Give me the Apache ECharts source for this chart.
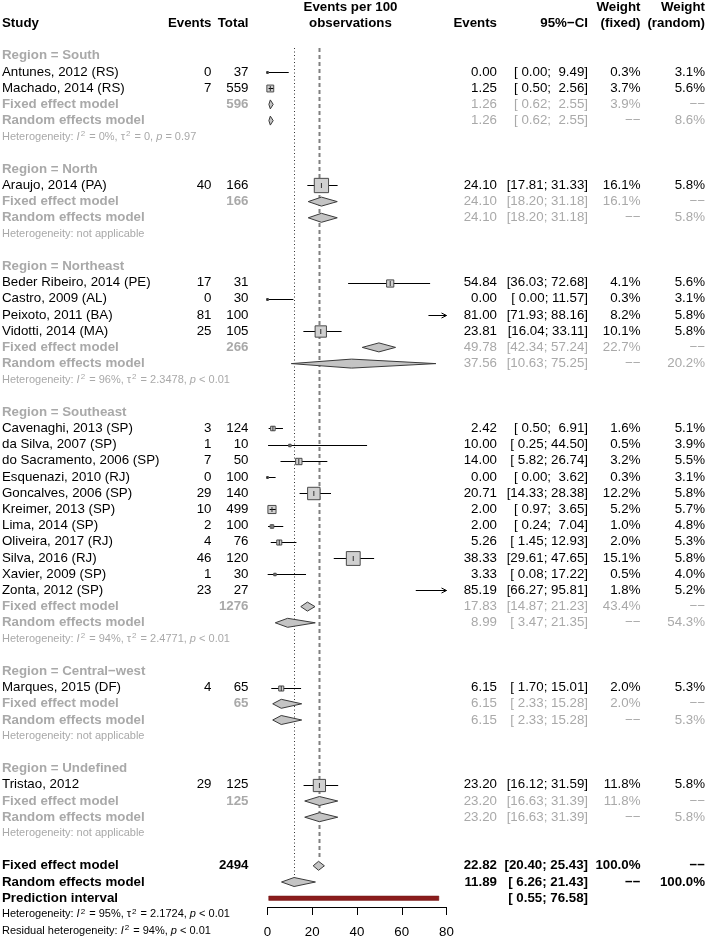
<!DOCTYPE html>
<html>
<head>
<meta charset="utf-8">
<script src="https://cdn.jsdelivr.net/npm/echarts@6/dist/echarts.min.js"></script>
<style>
  html, body { margin: 0; padding: 0; background: #fff; }
  #chart { width: 707px; height: 939px; }
</style>
</head>
<body>
<div id="chart"></div>
<script>
// ---- data ----
const regionNames = ['South', 'North', 'Northeast', 'Southeast', 'Central\u2212west', 'Undefined']

const studyNames = [
  'Antunes, 2012 (RS)', 'Machado, 2014 (RS)',
  'Araujo, 2014 (PA)',
  'Beder Ribeiro, 2014 (PE)', 'Castro, 2009 (AL)', 'Peixoto, 2011 (BA)', 'Vidotti, 2014 (MA)',
  'Cavenaghi, 2013 (SP)', 'da Silva, 2007 (SP)', 'do Sacramento, 2006 (SP)', 'Esquenazi, 2010 (RJ)',
  'Goncalves, 2006 (SP)', 'Kreimer, 2013 (SP)', 'Lima, 2014 (SP)', 'Oliveira, 2017 (RJ)',
  'Silva, 2016 (RJ)', 'Xavier, 2009 (SP)', 'Zonta, 2012 (SP)',
  'Marques, 2015 (DF)',
  'Tristao, 2012'
]
const studyRegion = [0, 0, 1, 2, 2, 2, 2, 3, 3, 3, 3, 3, 3, 3, 3, 3, 3, 3, 4, 5]
const studyEvents = [0, 7, 40, 17, 0, 81, 25, 3, 1, 7, 0, 29, 10, 2, 4, 46, 1, 23, 4, 29]
const studyTotal = [37, 559, 166, 31, 30, 100, 105, 124, 10, 50, 100, 140, 499, 100, 76, 120, 30, 27, 65, 125]
const studyEst = [0.00, 1.25, 24.10, 54.84, 0.00, 81.00, 23.81, 2.42, 10.00, 14.00, 0.00, 20.71, 2.00, 2.00, 5.26, 38.33, 3.33, 85.19, 6.15, 23.20]
const studyLower = [0.00, 0.50, 17.81, 36.03, 0.00, 71.93, 16.04, 0.50, 0.25, 5.82, 0.00, 14.33, 0.97, 0.24, 1.45, 29.61, 0.08, 66.27, 1.70, 16.12]
const studyUpper = [9.49, 2.56, 31.33, 72.68, 11.57, 88.16, 33.11, 6.91, 44.50, 26.74, 3.62, 28.38, 3.65, 7.04, 12.93, 47.65, 17.22, 95.81, 15.01, 31.59]
const studyWFixed = [0.3, 3.7, 16.1, 4.1, 0.3, 8.2, 10.1, 1.6, 0.5, 3.2, 0.3, 12.2, 5.2, 1.0, 2.0, 15.1, 0.5, 1.8, 2.0, 11.8]
const studyWRandom = [3.1, 5.6, 5.8, 5.6, 3.1, 5.8, 5.8, 5.1, 3.9, 5.5, 3.1, 5.8, 5.7, 4.8, 5.3, 5.8, 4.0, 5.2, 5.3, 5.8]

const regionTotal = [596, 166, 266, 1276, 65, 125]
const fixedEst = [1.26, 24.10, 49.78, 17.83, 6.15, 23.20]
const fixedLower = [0.62, 18.20, 42.34, 14.87, 2.33, 16.63]
const fixedUpper = [2.55, 31.18, 57.24, 21.23, 15.28, 31.39]
const fixedWeight = [3.9, 16.1, 22.7, 43.4, 2.0, 11.8]
const randomEst = [1.26, 24.10, 37.56, 8.99, 6.15, 23.20]
const randomLower = [0.62, 18.20, 10.63, 3.47, 2.33, 16.63]
const randomUpper = [2.55, 31.18, 75.25, 21.35, 15.28, 31.39]
const randomWeight = [8.6, 5.8, 20.2, 54.3, 5.3, 5.8]
const hetI2 = [0, null, 96, 94, null, null]
const hetTau2 = ['0', null, '2.3478', '2.4771', null, null]
const hetP = ['= 0.97', null, '< 0.01', '< 0.01', null, null]

const overallTotal = 2494
const overallFixed = [22.82, 20.40, 25.43]
const overallRandom = [11.89, 6.26, 21.43]
const predInterval = [0.55, 76.58]
const overallHet = [95, '2.1724', '< 0.01']
const residualHet = [94, '< 0.01']

const xTicks = [0, 20, 40, 60, 80]

// ---- layout ----
const XMIN = 0, XMAX = 80
const ROW0 = 55.8, ROWH = 16.2
const FONT = '"Liberation Sans", Arial, Helvetica, sans-serif'
const FS = 13.3, FS_SMALL = 11
const BLACK = '#000', GRAY = '#a9a9a9'
const COL = { study: 2, events: 211.5, total: 248.5, plotMid: 350.5, est: 497, ci: 588, wf: 640.5, wr: 705 }

const texts = []
function addText(row, x, align, text, color, bold, size, rich) {
  texts.push({ row, x, align, text, color, bold: !!bold, size: size || FS, rich })
}
const fmt = v => v.toFixed(2)
const pad = v => v.toFixed(2).padStart(5, ' ')
const ci = (l, u) => '[' + pad(l) + '; ' + pad(u) + ']'
const pct = v => v.toFixed(1) + '%'
const DASH = '\u2212\u2212'

// superscript 2 drawn a bit raised and small, like R's plotmath
function richStyles(color) {
  return {
    n: { fontSize: FS_SMALL, fontFamily: FONT, fill: color },
    it: { fontSize: FS_SMALL, fontFamily: FONT, fill: color, fontStyle: 'italic' },
    sup: { fontSize: 8, fontFamily: FONT, fill: color, padding: [0, 1, 6, 1] }
  }
}
function hetRich(prefix, i2, tau2, p) {
  let s = '{n|' + prefix + ': }{it|I}{sup|2}{n| = ' + i2 + '%, '
  if (tau2 !== null) s += '\u03c4}{sup|2}{n| = ' + tau2 + ', '
  return s + '}{it|p}{n| ' + p + '}'
}

// headers
const H1 = -2.98, H2 = -1.98
addText(H1, COL.plotMid, 'center', 'Events per 100', BLACK, true)
addText(H2, COL.plotMid, 'center', 'observations', BLACK, true)
addText(H2, COL.study, 'left', 'Study', BLACK, true)
addText(H2, COL.events, 'right', 'Events', BLACK, true)
addText(H2, COL.total, 'right', 'Total', BLACK, true)
addText(H2, COL.est, 'right', 'Events', BLACK, true)
addText(H2, COL.ci, 'right', '95%\u2212CI', BLACK, true)
addText(H1, COL.wf, 'right', 'Weight', BLACK, true)
addText(H2, COL.wf, 'right', '(fixed)', BLACK, true)
addText(H1, COL.wr, 'right', 'Weight', BLACK, true)
addText(H2, COL.wr, 'right', '(random)', BLACK, true)

const studyMarks = []
const diamonds = []
let r = 0
regionNames.forEach((reg, g) => {
  addText(r, COL.study, 'left', 'Region = ' + reg, GRAY, true)
  r++
  studyNames.forEach((name, i) => {
    if (studyRegion[i] !== g) return
    addText(r, COL.study, 'left', name, BLACK)
    addText(r, COL.events, 'right', String(studyEvents[i]), BLACK)
    addText(r, COL.total, 'right', String(studyTotal[i]), BLACK)
    addText(r, COL.est, 'right', fmt(studyEst[i]), BLACK)
    addText(r, COL.ci, 'right', ci(studyLower[i], studyUpper[i]), BLACK)
    addText(r, COL.wf, 'right', pct(studyWFixed[i]), BLACK)
    addText(r, COL.wr, 'right', pct(studyWRandom[i]), BLACK)
    studyMarks.push([studyEst[i], r, studyLower[i], studyUpper[i], studyWFixed[i]])
    r++
  })
  addText(r, COL.study, 'left', 'Fixed effect model', GRAY, true)
  addText(r, COL.total, 'right', String(regionTotal[g]), GRAY, true)
  addText(r, COL.est, 'right', fmt(fixedEst[g]), GRAY)
  addText(r, COL.ci, 'right', ci(fixedLower[g], fixedUpper[g]), GRAY)
  addText(r, COL.wf, 'right', pct(fixedWeight[g]), GRAY)
  addText(r, COL.wr, 'right', DASH, GRAY)
  diamonds.push([fixedEst[g], r, fixedLower[g], fixedUpper[g]])
  r++
  addText(r, COL.study, 'left', 'Random effects model', GRAY, true)
  addText(r, COL.est, 'right', fmt(randomEst[g]), GRAY)
  addText(r, COL.ci, 'right', ci(randomLower[g], randomUpper[g]), GRAY)
  addText(r, COL.wf, 'right', DASH, GRAY)
  addText(r, COL.wr, 'right', pct(randomWeight[g]), GRAY)
  diamonds.push([randomEst[g], r, randomLower[g], randomUpper[g]])
  r++
  if (hetI2[g] === null) {
    addText(r, COL.study, 'left', 'Heterogeneity: not applicable', GRAY, false, FS_SMALL)
  } else {
    addText(r, COL.study, 'left', hetRich('Heterogeneity', hetI2[g], hetTau2[g], hetP[g]), GRAY, false, FS_SMALL, richStyles(GRAY))
  }
  r += 2
})

// overall
const rowFixed = r, rowRandom = r + 1, rowPred = r + 2
addText(rowFixed, COL.study, 'left', 'Fixed effect model', BLACK, true)
addText(rowFixed, COL.total, 'right', String(overallTotal), BLACK, true)
addText(rowFixed, COL.est, 'right', fmt(overallFixed[0]), BLACK, true)
addText(rowFixed, COL.ci, 'right', ci(overallFixed[1], overallFixed[2]), BLACK, true)
addText(rowFixed, COL.wf, 'right', '100.0%', BLACK, true)
addText(rowFixed, COL.wr, 'right', DASH, BLACK, true)
diamonds.push([overallFixed[0], rowFixed, overallFixed[1], overallFixed[2]])
addText(rowRandom, COL.study, 'left', 'Random effects model', BLACK, true)
addText(rowRandom, COL.est, 'right', fmt(overallRandom[0]), BLACK, true)
addText(rowRandom, COL.ci, 'right', ci(overallRandom[1], overallRandom[2]), BLACK, true)
addText(rowRandom, COL.wf, 'right', DASH, BLACK, true)
addText(rowRandom, COL.wr, 'right', '100.0%', BLACK, true)
diamonds.push([overallRandom[0], rowRandom, overallRandom[1], overallRandom[2]])
addText(rowPred, COL.study, 'left', 'Prediction interval', BLACK, true)
addText(rowPred, COL.ci, 'right', ci(predInterval[0], predInterval[1]), BLACK, true)
addText(r + 3, COL.study, 'left', hetRich('Heterogeneity', overallHet[0], overallHet[1], overallHet[2]), BLACK, false, FS_SMALL, richStyles(BLACK))
addText(r + 4, COL.study, 'left', hetRich('Residual heterogeneity', residualHet[0], null, residualHet[1]), BLACK, false, FS_SMALL, richStyles(BLACK))

const refLines = [
  [overallRandom[0], -0.48, rowRandom - 0.05, 0],
  [overallFixed[0], -0.48, rowFixed - 0.4, 1]
]

// ---- chart ----
const chart = echarts.init(document.getElementById('chart'))
const crisp = v => Math.round(v) + 0.5

chart.setOption({
  animation: false,
  grid: [
    { left: 267.5, top: 0, width: 179, height: 939 },
    { left: 267.5, top: 899, width: 179, height: 8 }
  ],
  xAxis: [
    { gridIndex: 0, type: 'value', min: XMIN, max: XMAX, show: false },
    {
      gridIndex: 1, type: 'value', min: XMIN, max: XMAX, interval: 20, position: 'bottom',
      axisLine: { show: true, lineStyle: { color: '#000', width: 1 } },
      axisTick: { show: true, length: 8, lineStyle: { color: '#000' } },
      axisLabel: { color: '#000', fontSize: FS, fontFamily: FONT, margin: 19,
        formatter: v => xTicks.includes(v) ? String(v) : '' },
      splitLine: { show: false }
    }
  ],
  yAxis: [
    { gridIndex: 0, type: 'value', inverse: true, min: -ROW0 / ROWH, max: (939 - ROW0) / ROWH, show: false },
    { gridIndex: 1, type: 'value', show: false }
  ],
  series: [
    {
      // reference lines: dotted = random, dashed = fixed
      type: 'custom', xAxisIndex: 0, yAxisIndex: 0, z: 1,
      data: refLines,
      renderItem: (params, api) => {
        const p0 = api.coord([api.value(0), api.value(1)])
        const p1 = api.coord([api.value(0), api.value(2)])
        const dashed = api.value(3) === 1
        return {
          type: 'line',
          shape: { x1: crisp(p0[0]), y1: p0[1], x2: crisp(p0[0]), y2: p1[1] },
          style: dashed
            ? { stroke: '#808080', lineWidth: 2, lineDash: [4, 3] }
            : { stroke: '#333', lineWidth: 1, lineDash: [1, 2.5] }
        }
      }
    },
    {
      // study CIs and squares
      type: 'custom', xAxisIndex: 0, yAxisIndex: 0, z: 3,
      data: studyMarks,
      renderItem: (params, api) => {
        const est = api.value(0), row = api.value(1), lo = api.value(2), hi = api.value(3), w = api.value(4)
        const y = crisp(api.coord([0, row])[1])
        const x0 = api.coord([Math.max(lo, XMIN), row])[0]
        const x1 = api.coord([Math.min(hi, XMAX), row])[0]
        const kids = [{ type: 'line', shape: { x1: x0, y1: y, x2: x1, y2: y }, style: { stroke: '#000', lineWidth: 1 } }]
        if (hi > XMAX) {
          kids.push({ type: 'polyline', shape: { points: [[x1 - 5, y - 2.5], [x1, y], [x1 - 5, y + 2.5]] }, style: { stroke: '#000', fill: null, lineWidth: 1 } })
        }
        if (est >= XMIN && est <= XMAX) {
          const xc = api.coord([est, row])[0]
          const s = Math.max(3.56 * Math.sqrt(w), 1.5)
          kids.push({ type: 'rect', shape: { x: xc - s / 2, y: y - s / 2, width: s, height: s }, style: { fill: '#d0d0d0', stroke: '#4a4a4a', lineWidth: 1 } })
          if (x1 - x0 < s) kids.push({ type: 'line', shape: { x1: x0, y1: y, x2: x1, y2: y }, style: { stroke: '#000', lineWidth: 1 } })
          const t = Math.min(2.5, s / 2)
          kids.push({ type: 'line', shape: { x1: xc, y1: y - t, x2: xc, y2: y + t }, style: { stroke: '#333', lineWidth: 1 } })
        }
        return { type: 'group', children: kids }
      }
    },
    {
      // summary diamonds
      type: 'custom', xAxisIndex: 0, yAxisIndex: 0, z: 3,
      data: diamonds,
      renderItem: (params, api) => {
        const row = api.value(1)
        const y = api.coord([0, row])[1]
        const xe = api.coord([api.value(0), row])[0]
        const xl = api.coord([api.value(2), row])[0]
        const xu = api.coord([api.value(3), row])[0]
        const h = 4.5
        return {
          type: 'polygon',
          shape: { points: [[xl, y], [xe, y - h], [xu, y], [xe, y + h]] },
          style: { fill: '#c4c4c4', stroke: '#3a3a3a', lineWidth: 1 }
        }
      }
    },
    {
      // prediction interval
      type: 'custom', xAxisIndex: 0, yAxisIndex: 0, z: 3,
      data: [[predInterval[0], rowPred, predInterval[1]]],
      renderItem: (params, api) => {
        const p0 = api.coord([api.value(0), api.value(1)])
        const p1 = api.coord([api.value(2), api.value(1)])
        return {
          type: 'rect',
          shape: { x: p0[0], y: p0[1] - 2.2, width: p1[0] - p0[0], height: 4.4 },
          style: { fill: '#8b1c1c', stroke: '#6e1414', lineWidth: 0.5 }
        }
      }
    },
    {
      // table text
      type: 'custom', xAxisIndex: 0, yAxisIndex: 0, z: 5,
      data: texts.map((t, i) => [0, t.row, i]),
      renderItem: (params, api) => {
        const t = texts[api.value(2)]
        const y = api.coord([0, api.value(1)])[1]
        const style = {
          text: t.text, fill: t.color, fontSize: t.size, fontFamily: FONT,
          fontWeight: t.bold ? 'bold' : 'normal', align: t.align, verticalAlign: 'middle'
        }
        if (t.rich) style.rich = t.rich
        return { type: 'text', x: t.x, y: y, style }
      }
    }
  ]
})
</script>
</body>
</html>
